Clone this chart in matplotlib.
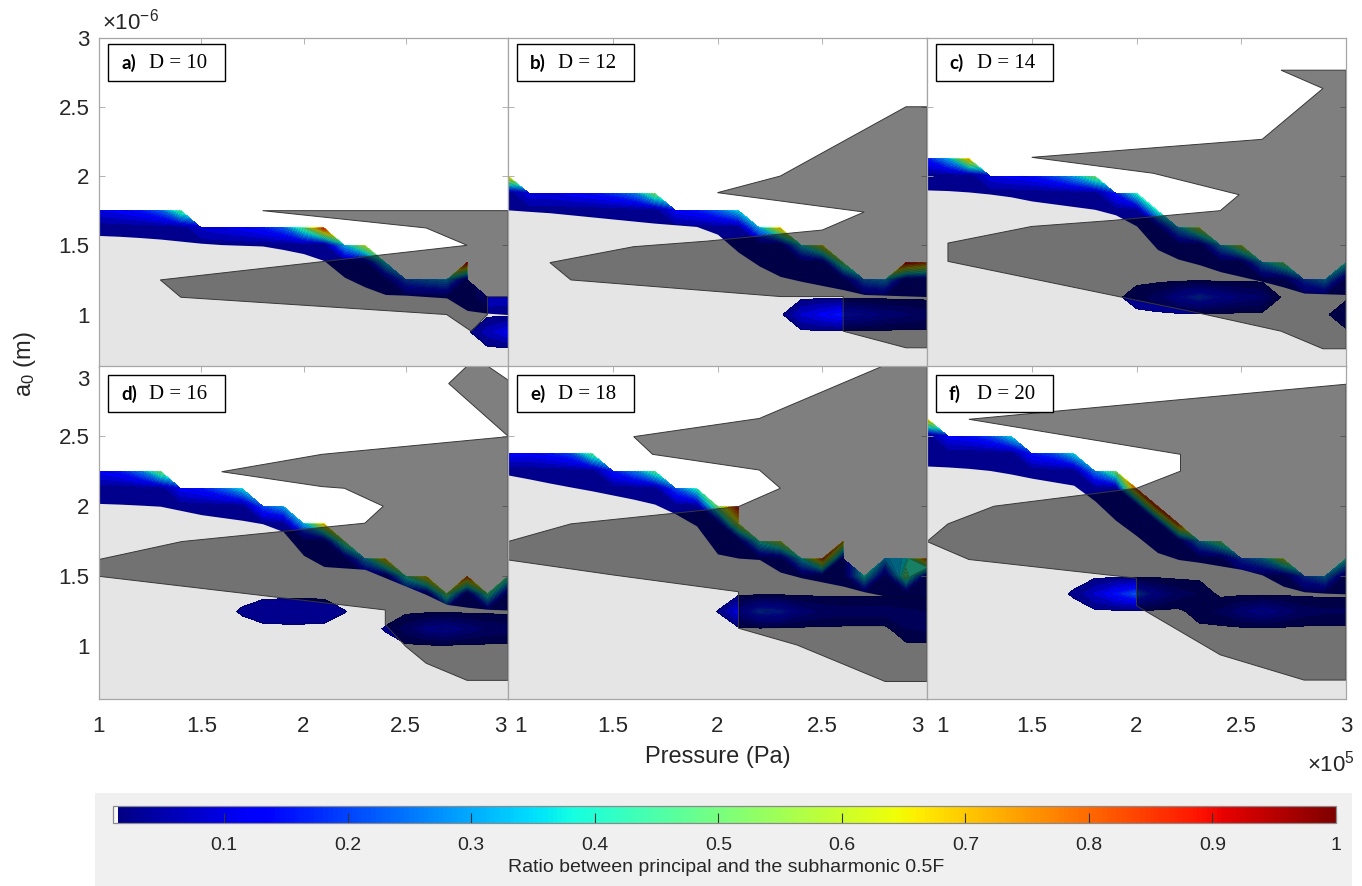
import numpy as np
import matplotlib
matplotlib.use("Agg")
import matplotlib.pyplot as plt
from matplotlib.patches import Polygon, Rectangle
from matplotlib.colors import Normalize, ListedColormap
from matplotlib.cm import ScalarMappable
import matplotlib.transforms as mtransforms

plt.rcParams['font.family'] = ['Liberation Sans', 'DejaVu Sans']
plt.rcParams['mathtext.fontset'] = 'custom'
plt.rcParams['mathtext.rm'] = 'Liberation Sans'
plt.rcParams['mathtext.it'] = 'Liberation Sans:italic'
plt.rcParams['mathtext.bf'] = 'Liberation Sans:bold'

# ---------------------------------------------------------------- data
# grid of the simulation: pressure (x 1e5 Pa) and initial radius a0 (x 1e-6 m)
pressure = [1.0, 1.1, 1.2, 1.3, 1.4, 1.5, 1.6, 1.7, 1.8, 1.9, 2.0,
            2.1, 2.2, 2.3, 2.4, 2.5, 2.6, 2.7, 2.8, 2.9, 3.0]
radius = [0.625, 0.75, 0.875, 1.0, 1.125, 1.25, 1.375, 1.5, 1.625, 1.75,
          1.875, 2.0, 2.125, 2.25, 2.375, 2.5, 2.625, 2.75, 2.875, 3.0]

panel_tags = ['a)', 'b)', 'c)', 'd)', 'e)', 'f)']
d_values = [10, 12, 14, 16, 18, 20]

axis_ticks = [1, 1.5, 2, 2.5, 3]
axis_ticklabels = ['1', '1.5', '2', '2.5', '3']
cbar_ticks = [0.1, 0.2, 0.3, 0.4, 0.5, 0.6, 0.7, 0.8, 0.9, 1.0]
cbar_ticklabels = ['0.1', '0.2', '0.3', '0.4', '0.5', '0.6', '0.7', '0.8', '0.9', '1']
ratio_levels = [0.01, 0.04, 0.07, 0.10, 0.13, 0.16, 0.19, 0.22, 0.25, 0.28, 0.31,
                0.34, 0.37, 0.40, 0.43, 0.46, 0.49, 0.52, 0.55, 0.58, 0.61, 0.64,
                0.67, 0.70, 0.73, 0.76, 0.79, 0.82, 0.85, 0.88, 0.91, 0.94, 0.97, 1.0]
band_base = 0.02   # ratio inside the subharmonic band (dark navy)

# --- panel a (D = 10)
top_a = [1.75, 1.75, 1.75, 1.75, 1.75, 1.625, 1.625, 1.625, 1.625, 1.625, 1.625,
         1.625, 1.5, 1.5, 1.375, 1.25, 1.25, 1.25, 1.375, 1.125, 1.125]
peak_a = [0.10, 0.12, 0.15, 0.22, 0.45, 0.08, 0.10, 0.12, 0.15, 0.22, 0.45,
          0.85, 0.30, 0.60, 0.35, 0.22, 0.26, 0.30, 0.90, 0.07, 0.06]
edge_a = [1.571, 1.565, 1.556, 1.545, 1.53, 1.515, 1.505, 1.50, 1.495, 1.47, 1.44,
          1.39, 1.27, 1.20, 1.145, 1.14, 1.13, 1.12, 1.03, 1.01, 1.0]
extra_a = []
isl_a = [(2.9, 0.875, 0.0625), (3.0, 0.875, 0.12)]
poly_a = [[(1.8, 1.75), (3.0, 1.75), (3.0, 1.13), (2.9, 1.13), (2.9, 1.0), (2.82, 0.88),
           (2.7, 1.0), (1.4, 1.125), (1.3, 1.25), (2.8, 1.5), (2.6, 1.625)]]

# --- panel b (D = 12)
top_b = [2.0, 1.875, 1.875, 1.875, 1.875, 1.875, 1.875, 1.875, 1.75, 1.75, 1.75,
         1.75, 1.625, 1.625, 1.5, 1.5, 1.375, 1.25, 1.25, 1.375, 1.375]
peak_b = [0.70, 0.10, 0.10, 0.12, 0.14, 0.18, 0.25, 0.50, 0.12, 0.15, 0.22,
          0.35, 0.30, 0.70, 0.35, 0.65, 0.50, 0.25, 0.30, 0.90, 0.80]
edge_b = [1.756, 1.745, 1.735, 1.72, 1.705, 1.69, 1.675, 1.66, 1.648, 1.636, 1.58,
          1.45, 1.35, 1.275, 1.24, 1.21, 1.18, 1.145, 1.14, 1.135, 1.13]
extra_b = []
isl_b = [(2.4, 1.0, 0.08), (2.5, 1.0, 0.12), (2.6, 1.0, 0.16), (2.7, 1.0, 0.14),
         (2.8, 1.0, 0.10), (2.9, 1.0, 0.08), (3.0, 1.0, 0.06)]
poly_b = [[(2.0, 1.88), (2.3, 2.0), (2.9, 2.5), (3.0, 2.5), (3.0, 0.76), (2.9, 0.76),
           (2.6, 0.88), (2.6, 1.13), (2.3, 1.13), (1.3, 1.25), (1.2, 1.375), (1.6, 1.49),
           (1.95, 1.53), (2.5, 1.61), (2.7, 1.74)]]

# --- panel c (D = 14)
top_c = [2.125, 2.125, 2.125, 2.0, 2.0, 2.0, 2.0, 2.0, 2.0, 1.875, 1.875,
         1.75, 1.625, 1.625, 1.5, 1.5, 1.375, 1.375, 1.25, 1.25, 1.375]
peak_c = [0.15, 0.30, 0.70, 0.10, 0.12, 0.14, 0.20, 0.30, 0.50, 0.15, 0.40,
          0.40, 0.30, 0.60, 0.30, 0.60, 0.30, 0.50, 0.20, 0.30, 0.40]
edge_c = [1.90, 1.895, 1.885, 1.87, 1.85, 1.82, 1.80, 1.78, 1.76, 1.72, 1.64,
          1.47, 1.40, 1.36, 1.31, 1.275, 1.24, 1.20, 1.155, 1.15, 1.145]
extra_c = []
isl_c = [(2.0, 1.125, 0.03), (2.1, 1.125, 0.06), (2.2, 1.125, 0.14), (2.3, 1.125, 0.20),
         (2.4, 1.125, 0.14), (2.5, 1.125, 0.10), (2.6, 1.125, 0.08), (3.0, 1.0, 0.05)]
poly_c = [[(1.5, 2.135), (2.6, 2.265), (2.89, 2.632), (2.69, 2.764), (3.0, 2.764),
           (3.0, 0.753), (2.89, 0.753), (2.69, 0.88), (2.3, 1.01), (1.1, 1.384),
           (1.1, 1.516), (1.5, 1.636), (1.89, 1.68), (2.4, 1.75), (2.49, 1.865),
           (2.08, 2.02)]]

# --- panel d (D = 16)
top_d = [2.25, 2.25, 2.25, 2.25, 2.125, 2.125, 2.125, 2.125, 2.0, 2.0, 1.875,
         1.875, 1.75, 1.625, 1.625, 1.5, 1.5, 1.375, 1.5, 1.375, 1.5]
peak_d = [0.12, 0.15, 0.25, 0.50, 0.12, 0.15, 0.22, 0.35, 0.20, 0.30, 0.30,
          0.70, 0.50, 0.30, 0.70, 0.40, 0.70, 0.50, 0.80, 0.45, 0.45]
edge_d = [2.02, 2.015, 2.008, 2.0, 1.97, 1.94, 1.92, 1.90, 1.875, 1.82, 1.65,
          1.57, 1.56, 1.55, 1.49, 1.43, 1.37, 1.30, 1.28, 1.265, 1.26]
extra_d = []
isl_d = [(1.7, 1.25, 0.0135), (1.8, 1.25, 0.03), (1.9, 1.25, 0.036), (2.0, 1.25, 0.036),
         (2.1, 1.25, 0.033), (2.2, 1.25, 0.011), (2.4, 1.125, 0.012), (2.5, 1.125, 0.06),
         (2.6, 1.125, 0.12), (2.7, 1.125, 0.14), (2.8, 1.125, 0.10), (2.9, 1.125, 0.07),
         (3.0, 1.125, 0.06)]
poly_d = [[(1.6, 2.246), (2.09, 2.37), (3.0, 2.496), (3.0, 0.758), (2.8, 0.758),
           (2.6, 0.88), (2.5, 1.0), (2.4, 1.155), (2.4, 1.26), (1.0, 1.5), (1.0, 1.62),
           (1.405, 1.748), (2.3, 1.879), (2.39, 2.0), (2.2, 2.128), (2.09, 2.14)],
          [(2.71, 2.875), (2.8, 3.0), (2.9, 3.0), (3.0, 2.9), (3.0, 2.5)]]

# --- panel e (D = 18)
top_e = [2.375, 2.375, 2.375, 2.375, 2.375, 2.25, 2.25, 2.25, 2.125, 2.125, 2.0,
         2.0, 1.75, 1.75, 1.625, 1.625, 1.75, 1.5, 1.625, 1.625, 1.625]
peak_e = [0.12, 0.12, 0.15, 0.20, 0.45, 0.15, 0.25, 0.45, 0.20, 0.40, 0.50,
          0.90, 0.40, 0.60, 0.35, 0.80, 0.70, 0.40, 0.30, 0.35, 0.80]
edge_e = [2.223, 2.195, 2.165, 2.137, 2.11, 2.08, 2.05, 2.015, 1.945, 1.86, 1.66,
          1.63, 1.62, 1.53, 1.49, 1.46, 1.43, 1.39, 1.36, 1.32, 1.29]
extra_e = [(2.9, 1.5, 0.5), (2.1, 1.875, 0.6)]
isl_e = [(2.0, 1.25, 0.0105), (2.1, 1.25, 0.10), (2.2, 1.25, 0.20), (2.3, 1.25, 0.18),
         (2.4, 1.25, 0.10), (2.5, 1.25, 0.07), (2.6, 1.25, 0.06), (2.7, 1.25, 0.06),
         (2.8, 1.25, 0.06), (2.9, 1.25, 0.05), (3.0, 1.25, 0.04), (2.9, 1.125, 0.04),
         (3.0, 1.125, 0.05)]
poly_e = [[(1.6, 2.496), (2.2, 2.626), (2.79, 3.0), (3.0, 3.0), (3.0, 0.75), (2.8, 0.75),
           (2.38, 1.01), (2.1, 1.13), (2.1, 1.39), (1.5, 1.51), (1.0, 1.617), (1.0, 1.748),
           (1.3, 1.874), (2.1, 1.997), (2.3, 2.128), (2.2, 2.258), (1.69, 2.37)]]

# --- panel f (D = 20)
top_f = [2.625, 2.5, 2.5, 2.5, 2.5, 2.375, 2.375, 2.375, 2.25, 2.25, 2.125,
         2.0, 1.875, 1.75, 1.75, 1.625, 1.625, 1.625, 1.5, 1.5, 1.625]
peak_f = [0.70, 0.12, 0.14, 0.20, 0.35, 0.15, 0.20, 0.35, 0.25, 0.50, 0.80,
          0.85, 0.80, 0.30, 0.50, 0.20, 0.30, 0.60, 0.20, 0.30, 0.40]
edge_f = [2.287, 2.28, 2.27, 2.255, 2.23, 2.20, 2.175, 2.15, 2.04, 1.90, 1.79,
          1.67, 1.62, 1.60, 1.575, 1.55, 1.51, 1.43, 1.39, 1.38, 1.375]
extra_f = []
isl_f = [(1.7, 1.375, 0.0133), (1.8, 1.375, 0.08), (1.9, 1.375, 0.15), (2.0, 1.375, 0.22),
         (2.1, 1.375, 0.12), (2.2, 1.375, 0.06), (2.3, 1.375, 0.04), (2.3, 1.25, 0.03),
         (2.4, 1.25, 0.05), (2.5, 1.25, 0.10), (2.6, 1.25, 0.14), (2.7, 1.25, 0.10),
         (2.8, 1.25, 0.06), (2.9, 1.25, 0.05), (3.0, 1.25, 0.05)]
poly_f = [[(1.2, 2.62), (3.0, 2.87), (3.0, 0.76), (2.8, 0.76), (2.4, 0.94), (2.0, 1.29),
           (2.0, 1.487), (1.2, 1.62), (1.0, 1.748), (1.1, 1.874), (1.32, 2.0),
           (2.0, 2.128), (2.21, 2.25), (2.21, 2.37)]]

panels = [
    (top_a, peak_a, edge_a, extra_a, isl_a, poly_a),
    (top_b, peak_b, edge_b, extra_b, isl_b, poly_b),
    (top_c, peak_c, edge_c, extra_c, isl_c, poly_c),
    (top_d, peak_d, edge_d, extra_d, isl_d, poly_d),
    (top_e, peak_e, edge_e, extra_e, isl_e, poly_e),
    (top_f, peak_f, edge_f, extra_f, isl_f, poly_f),
]

# ---------------------------------------------------------------- layout
W, H, DPI = 1362, 886, 100
fig = plt.figure(figsize=(W / DPI, H / DPI), dpi=DPI)
fig.patch.set_facecolor('white')


def fx(px):
    return px / W


def fy(py):
    return 1.0 - py / H


col_px = [(99.0, 508.0), (508.0, 927.0), (927.0, 1346.0)]
row_px = [(37.5, 366.5), (366.0, 699.0)]
box_top_px = [44.0, 375.0]

jet = plt.get_cmap('jet')
norm = Normalize(vmin=0.01, vmax=1.0)
LIGHT = '#e5e5e5'
FRAME = '#a6a6a6'
TXT = '#262626'
LINE_KW = dict(colors='k', linewidths=0.25, alpha=0.6)

xs = np.array(pressure)
ys = np.array(radius)


def cell(arr, val):
    return int(np.argmin(np.abs(np.asarray(arr) - val)))


def band_field(top, peak, extra):
    Z = np.full((len(ys), len(xs)), np.nan)
    for i in range(len(xs)):
        for j in range(len(ys)):
            if ys[j] < top[i] - 1e-6:
                Z[j, i] = band_base
            elif abs(ys[j] - top[i]) < 1e-6:
                Z[j, i] = peak[i]
    for (x, y, v) in extra:
        Z[cell(ys, y), cell(xs, x)] = v
    return np.ma.masked_invalid(Z)


def island_field(isl):
    Z = np.zeros((len(ys), len(xs)))
    for (x, y, v) in isl:
        Z[cell(ys, y), cell(xs, x)] = v
    return Z


def shift(label, dx_px=0.0, dy_px=0.0):
    off = mtransforms.ScaledTranslation(dx_px / DPI, dy_px / DPI, fig.dpi_scale_trans)
    label.set_transform(label.get_transform() + off)


for k, (top, peak, edge, extra, isl, polys) in enumerate(panels):
    r, c = divmod(k, 3)
    x0, x1 = col_px[c]
    y0, y1 = row_px[r]
    ax = fig.add_axes([fx(x0), fy(y1), (x1 - x0) / W, (y1 - y0) / H])
    ax.set_facecolor('white')
    ax.set_xlim(1, 3)
    ax.set_ylim(0.625, 3.0)

    Zb = band_field(top, peak, extra)
    ax.contourf(xs, ys, Zb, levels=ratio_levels, cmap=jet, norm=norm,
                corner_mask=True, zorder=1)
    ax.contour(xs, ys, Zb, levels=ratio_levels, corner_mask=True, zorder=1.1, **LINE_KW)

    ax.fill_between(xs, 0.5, edge, color=LIGHT, lw=0, zorder=2)

    Zi = island_field(isl)
    ax.contourf(xs, ys, Zi, levels=ratio_levels, cmap=jet, norm=norm, zorder=3)
    ax.contour(xs, ys, Zi, levels=ratio_levels, zorder=3.1, **LINE_KW)

    for pts in polys:
        ax.add_patch(Polygon(pts, closed=True, facecolor=(0, 0, 0, 0.5),
                             edgecolor=(0.22, 0.22, 0.22), lw=0.7, zorder=4))

    ax.set_xticks(axis_ticks)
    ax.set_yticks(axis_ticks)
    ax.tick_params(direction='in', length=4, width=0.6, color=FRAME,
                   top=True, right=True, labelsize=16, labelcolor=TXT)
    ax.tick_params(axis='x', pad=12)
    ax.tick_params(axis='y', pad=7)
    for sp in ax.spines.values():
        sp.set_color(FRAME)
        sp.set_linewidth(0.9)
        sp.set_zorder(6)

    if r == 1:
        ax.set_xticklabels(axis_ticklabels)
        labs = ax.get_xticklabels()
        if c == 0:
            shift(labs[-1], -8)
        elif c == 1:
            shift(labs[0], 13)
            shift(labs[-1], -10)
        else:
            shift(labs[0], 15)
    else:
        ax.set_xticklabels([])
    if c == 0:
        ax.set_yticklabels(axis_ticklabels)
        if r == 1:
            shift(ax.get_yticklabels()[-1], 0, -12)
    else:
        ax.set_yticklabels([])

    # panel label box
    bl = x0 + 9
    bt = box_top_px[r]
    fig.add_artist(Rectangle((fx(bl), fy(bt + 37)), 117 / W, 37 / H,
                             transform=fig.transFigure, facecolor='white',
                             edgecolor='black', lw=1.0, zorder=10))
    fig.text(fx(bl + 13), fy(bt + 19), panel_tags[k], family=['Lato', 'DejaVu Sans'],
             fontweight='bold', fontsize=13.5, va='center', ha='left', zorder=11)
    fig.text(fx(bl + 41), fy(bt + 19), 'D = %d' % d_values[k],
             family=['Liberation Serif', 'DejaVu Serif'], fontsize=15,
             va='center', ha='left', zorder=11)

# axis labels and exponents
fig.text(fx(102), fy(22), r'$\times10^{-6}$', fontsize=16, color=TXT,
         ha='left', va='center')
fig.text(fx(1355), fy(764), r'$\times10^{5}$', fontsize=16, color=TXT,
         ha='right', va='center')
fig.text(fx(25), fy(364), r'a$_0$ (m)', fontsize=17, color=TXT, rotation=90,
         ha='center', va='center')
fig.text(fx(718), fy(757), 'Pressure (Pa)', fontsize=17, color=TXT,
         ha='center', va='center')

# colorbar panel
fig.add_artist(Rectangle((fx(95), 0.0), (1352 - 95) / W, fy(793),
                         transform=fig.transFigure, facecolor='#f0f0f0',
                         edgecolor='none', zorder=-1))
cb_colors = jet(np.linspace(0, 1, 256))
cb_colors[0] = [0.98, 0.98, 0.98, 1.0]
cb_cmap = ListedColormap(cb_colors)
cax = fig.add_axes([fx(113), fy(823), (1336 - 113) / W, 17 / H])
cb = fig.colorbar(ScalarMappable(norm=norm, cmap=cb_cmap), cax=cax,
                  orientation='horizontal', ticks=cbar_ticks)
cb.ax.set_xticklabels(cbar_ticklabels)
cb.ax.tick_params(direction='in', length=7.5, width=0.8, color='#333333',
                  labelsize=14, labelcolor=TXT, pad=10)
cb.outline.set_edgecolor('#8a8a8a')
cb.outline.set_linewidth(0.9)
fig.text(fx(726), fy(868), 'Ratio between principal and the subharmonic 0.5F',
         fontsize=14, color=TXT, ha='center', va='center')

fig.savefig('out.png', dpi=DPI)
